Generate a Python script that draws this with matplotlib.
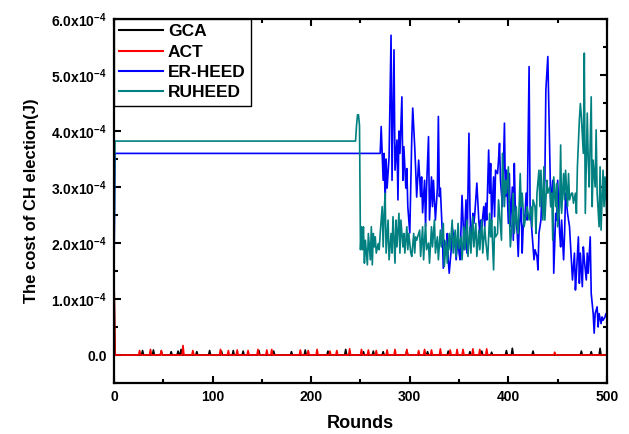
import numpy as np
import matplotlib
matplotlib.use('Agg')
import matplotlib.pyplot as plt
from matplotlib.ticker import FuncFormatter, MultipleLocator

plt.rcParams['font.family'] = ['Liberation Sans', 'DejaVu Sans']
plt.rcParams['font.weight'] = 'bold'
plt.rcParams['mathtext.fontset'] = 'custom'
plt.rcParams['mathtext.bf'] = 'Liberation Sans:bold'
plt.rcParams['mathtext.rm'] = 'Liberation Sans:bold'
plt.rcParams['mathtext.default'] = 'bf'

# values are in units of 1e-4 J
SCALE = 1e-4

# GCA / ACT: zero baseline with small spikes (round, height)
gca_spike_rounds = [29, 40, 48, 58, 65, 68, 84, 97, 109, 121, 131, 147, 162, 180, 194,
                    217, 235, 253, 263, 273, 297, 318, 339, 361, 373, 383, 398, 404,
                    425, 474, 484, 493]
gca_spike_heights = [0.08, 0.09, 0.07, 0.06, 0.07, 0.1, 0.06, 0.08, 0.07, 0.08, 0.07,
                     0.08, 0.07, 0.06, 0.09, 0.07, 0.1, 0.06, 0.07, 0.06, 0.08, 0.06,
                     0.07, 0.06, 0.07, 0.05, 0.08, 0.12, 0.07, 0.07, 0.06, 0.12]
act_spike_rounds = [26, 37, 48, 70, 80, 108, 116, 125, 136, 146, 155, 160, 189, 197,
                    206, 219, 226, 239, 251, 258, 266, 277, 285, 297, 309, 315, 322,
                    331, 341, 348, 354, 364, 371, 378, 447]
act_spike_heights = [0.08, 0.1, 0.08, 0.17, 0.08, 0.1, 0.08, 0.09, 0.08, 0.1, 0.09,
                     0.1, 0.09, 0.08, 0.1, 0.07, 0.08, 0.11, 0.1, 0.09, 0.08, 0.09,
                     0.1, 0.1, 0.08, 0.1, 0.09, 0.11, 0.09, 0.1, 0.1, 0.11, 0.1,
                     0.11, 0.05]
start_value = 1.46

er_rounds = [0, 1, 270, 271, 273, 274, 275, 276, 277, 279, 281, 282, 284, 285, 287, 288,
             289, 290, 292, 293, 294, 296, 297, 298, 300, 302, 303, 305, 306, 307, 309,
             310, 311, 312, 313, 315, 316, 317, 319, 320, 322, 323, 324, 326, 328, 329,
             330, 331, 333, 334, 335, 337, 338, 339, 340, 342, 343, 345, 346, 347, 349,
             350, 351, 353, 354, 355, 357, 358, 360, 361, 362, 364, 365, 366, 368, 370,
             371, 372, 373, 375, 376, 377, 378, 380, 381, 382, 383, 385, 386, 387, 389,
             390, 391, 392, 394, 396, 397, 398, 400, 401, 402, 404, 405, 406, 407, 409,
             410, 411, 413, 414, 415, 417, 418, 419, 421, 422, 423, 425, 426, 427, 429,
             430, 431, 433, 434, 435, 437, 438, 440, 442, 443, 445, 446, 448, 449, 450,
             452, 453, 454, 456, 457, 458, 460, 461, 462, 464, 465, 467, 468, 469, 471,
             472, 473, 475, 476, 477, 479, 480, 481, 483, 484, 486, 487, 488, 490, 491,
             492, 494, 495, 496, 498, 499, 500]
er_values = [1.46, 3.6, 3.6, 4.08, 3.12, 3.6, 2.71, 3.5, 2.98, 3.54, 5.71, 3.12, 5.45, 3.3,
             3.84, 2.77, 4.0, 3.6, 4.61, 3.12, 3.72, 2.98, 3.33, 2.65, 2.18, 3.86, 4.41,
             3.72, 3.3, 2.82, 3.48, 3.18, 2.83, 3.18, 2.54, 3.12, 2.29, 2.98, 3.9, 2.41,
             3.18, 2.65, 3.12, 2.41, 2.98, 4.26, 2.83, 2.98, 2.17, 1.55, 2.05, 1.88, 2.17,
             1.7, 1.46, 1.88, 2.29, 2.05, 1.93, 1.7, 2.11, 1.82, 1.7, 2.85, 2.41, 1.88,
             2.77, 1.82, 3.96, 2.65, 1.93, 2.53, 2.35, 2.53, 3.07, 2.41, 2.17, 2.41, 2.29,
             2.65, 2.29, 2.71, 2.41, 3.66, 2.89, 3.42, 2.41, 3.18, 2.47, 3.3, 3.24, 3.48,
             3.78, 3.12, 2.65, 4.14, 2.83, 3.3, 2.35, 3.24, 2.29, 3.0, 2.05, 3.42, 2.65,
             2.17, 1.76, 2.29, 2.65, 1.82, 2.29, 2.53, 2.89, 2.41, 5.15, 2.65, 2.41, 1.93,
             1.7, 1.88, 1.76, 1.52, 2.17, 2.41, 2.89, 2.65, 3.12, 4.73, 5.33, 3.48, 2.65,
             3.12, 1.46, 2.53, 2.41, 3.12, 2.17, 1.93, 2.41, 1.7, 2.17, 2.89, 2.53, 2.41,
             2.29, 1.64, 1.34, 1.82, 1.16, 1.46, 2.11, 1.28, 1.82, 1.22, 1.93, 1.7, 1.34,
             1.82, 1.46, 2.11, 1.1, 0.74, 0.39, 0.74, 0.86, 0.5, 0.74, 0.56, 0.68, 0.62,
             0.68, 0.74, 0.7]

ru_rounds = [0, 1, 245, 246, 247, 248, 249, 250, 251, 252, 253, 254, 255, 256, 257, 258,
             260, 261, 262, 263, 264, 265, 266, 268, 269, 270, 272, 273, 274, 275, 276,
             278, 279, 281, 282, 283, 285, 286, 287, 289, 290, 291, 293, 294, 295, 297,
             298, 299, 301, 302, 304, 305, 306, 307, 309, 310, 311, 313, 314, 316, 317,
             319, 320, 322, 323, 325, 326, 328, 329, 331, 332, 334, 335, 337, 338, 340,
             341, 343, 344, 346, 347, 349, 350, 352, 353, 355, 356, 358, 359, 361, 362,
             364, 365, 367, 368, 370, 371, 373, 374, 376, 377, 379, 381, 382, 383, 385,
             386, 387, 389, 390, 392, 393, 394, 396, 397, 398, 400, 401, 402, 404, 405,
             406, 408, 409, 410, 412, 413, 414, 416, 417, 419, 420, 421, 423, 424, 425,
             427, 428, 429, 431, 432, 433, 435, 436, 437, 439, 440, 442, 443, 444, 445,
             446, 448, 449, 450, 452, 453, 454, 456, 457, 458, 460, 461, 462, 464, 465,
             466, 468, 469, 470, 472, 473, 474, 476, 477, 478, 480, 481, 482, 484, 485,
             486, 488, 489, 490, 492, 493, 494, 496, 497, 498, 500]
ru_values = [1.46, 3.82, 3.82, 4.1, 4.29, 4.29, 4.1, 1.88, 2.29, 1.88, 2.29, 1.64, 2.05,
             1.82, 1.61, 2.17, 1.7, 2.29, 1.61, 2.17, 1.93, 2.11, 1.82, 1.99, 1.88, 2.17,
             2.65, 1.93, 2.53, 2.89, 1.82, 2.41, 1.7, 2.17, 1.82, 2.47, 1.64, 2.41, 1.93,
             2.53, 1.82, 2.41, 1.93, 2.17, 1.82, 2.29, 1.88, 2.17, 1.82, 1.76, 2.17, 1.82,
             2.11, 2.05, 2.17, 2.23, 1.76, 2.29, 1.7, 2.35, 1.88, 2.0, 1.64, 2.29, 1.93,
             2.41, 1.82, 2.11, 1.7, 2.23, 1.93, 2.35, 1.58, 2.05, 1.64, 2.17, 1.88, 2.41,
             1.82, 2.23, 1.76, 2.35, 1.9, 2.11, 1.7, 2.29, 1.88, 2.41, 1.76, 2.29, 1.82,
             2.47, 1.93, 2.35, 1.76, 2.23, 1.88, 2.41, 1.82, 2.29, 2.05, 1.7, 2.53, 2.11,
             2.41, 1.52, 2.29, 2.11, 2.17, 2.77, 2.29, 2.05, 3.6, 2.65, 3.12, 2.89, 3.36,
             2.53, 1.93, 2.41, 2.89, 2.17, 2.65, 2.29, 2.17, 3.24, 2.65, 2.89, 2.29, 2.41,
             2.65, 2.53, 2.41, 2.65, 2.29, 2.77, 2.65, 2.17, 2.89, 3.3, 2.65, 3.3, 2.41,
             3.36, 2.41, 3.12, 2.89, 3.0, 2.65, 2.89, 2.05, 3.18, 2.65, 3.06, 2.29, 2.65,
             3.75, 2.53, 3.24, 2.77, 3.3, 2.65, 3.24, 2.77, 2.89, 2.89, 2.71, 2.89, 2.53,
             3.36, 4.2, 4.49, 4.26, 3.6, 5.39, 2.53, 4.32, 3.48, 3.0, 4.61, 2.65, 3.48,
             3.0, 4.02, 2.89, 2.29, 3.36, 2.23, 3.3, 2.65, 3.18, 2.41]

rounds = np.arange(0, 501)


def spike_series(spike_rounds, spike_heights):
    y = np.zeros(len(rounds))
    y[0] = start_value
    y[np.array(spike_rounds)] = spike_heights
    return y


gca = spike_series(gca_spike_rounds, gca_spike_heights)
act = spike_series(act_spike_rounds, act_spike_heights)

fig = plt.figure(figsize=(6.29, 4.34), dpi=100)
ax = fig.add_axes([0.1812, 0.1175, 0.7838, 0.8387])

lw = 1.2
ax.plot(rounds, gca * SCALE, color='black', lw=lw, label='GCA')
ax.plot(rounds, act * SCALE, color='#FF0000', lw=lw, label='ACT')
ax.plot(er_rounds, np.array(er_values) * SCALE, color='#0000FF', lw=lw, label='ER-HEED')
ax.plot(ru_rounds, np.array(ru_values) * SCALE, color='#008080', lw=lw, label='RUHEED')

ax.set_xlim(0, 500)
ax.set_ylim(-0.5e-4, 6.0e-4)
ax.xaxis.set_major_locator(MultipleLocator(100))
ax.xaxis.set_minor_locator(MultipleLocator(50))
ax.yaxis.set_major_locator(MultipleLocator(1e-4))
ax.yaxis.set_minor_locator(MultipleLocator(0.5e-4))


def yfmt(v, pos):
    if abs(v) < 1e-12:
        return '0.0'
    return '%.1fx10$^{-4}$' % (v / SCALE)


ax.yaxis.set_major_formatter(FuncFormatter(yfmt))
ax.tick_params(which='both', direction='in', top=True, right=True, width=1.5)
ax.tick_params(which='major', length=5, labelsize=10, pad=5)
ax.tick_params(which='minor', length=3)
for s in ax.spines.values():
    s.set_linewidth(1.6)

ax.set_xlabel('Rounds', fontsize=13, fontweight='bold', labelpad=8)
ax.set_ylabel('The cost of CH election(J)', fontsize=12, fontweight='bold', labelpad=9)

leg = ax.legend(loc='upper left', borderaxespad=0, fancybox=False, fontsize=12.5,
                handlelength=2.5, handletextpad=0.3, labelspacing=0.3,
                borderpad=0.3, framealpha=1)
leg.get_frame().set_edgecolor('black')
leg.get_frame().set_linewidth(1.0)
for line in leg.get_lines():
    line.set_linewidth(1.5)

fig.savefig('out.png', dpi=100)
